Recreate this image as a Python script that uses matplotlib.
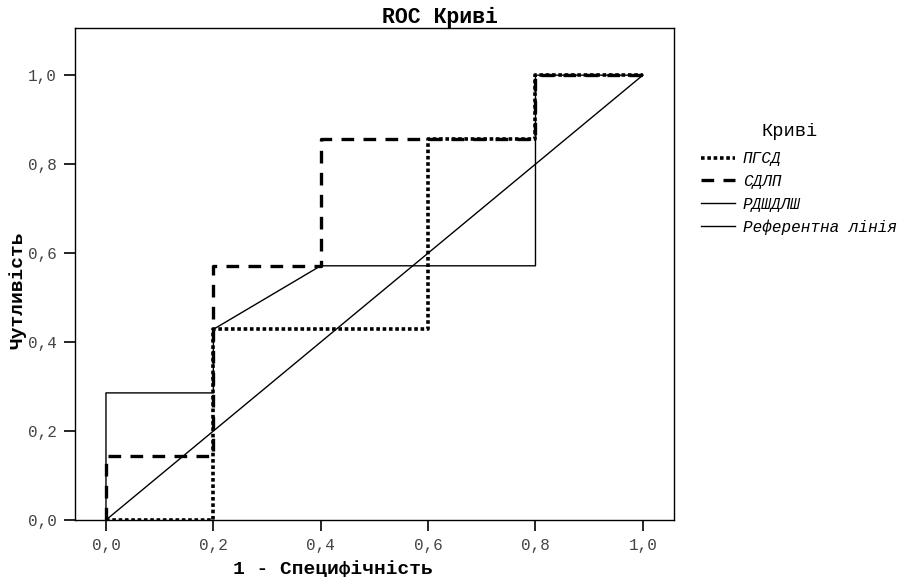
import matplotlib
matplotlib.use("Agg")
from matplotlib import pyplot as plt
from matplotlib.ticker import FuncFormatter

# ROC curve points (1 - specificity, sensitivity)
pgsd_x = [0.0, 0.2, 0.2, 0.6, 0.6, 0.8, 0.8, 1.0]
pgsd_y = [0.0, 0.0, 3/7, 3/7, 6/7, 6/7, 1.0, 1.0]

sdlp_x = [0.0, 0.0, 0.2, 0.2, 0.4, 0.4, 0.8, 0.8, 1.0]
sdlp_y = [0.0, 1/7, 1/7, 4/7, 4/7, 6/7, 6/7, 1.0, 1.0]

rdsh_x = [0.0, 0.0, 0.2, 0.2, 0.4, 0.8, 0.8, 1.0]
rdsh_y = [0.0, 2/7, 2/7, 3/7, 4/7, 4/7, 1.0, 1.0]

ref_x = [0.0, 1.0]
ref_y = [0.0, 1.0]

labels = ["ПГСД", "СДЛП", "РДШДЛШ", "Референтна лінія"]
ticks = [0.0, 0.2, 0.4, 0.6, 0.8, 1.0]

MONO = "Liberation Mono"

fig = plt.figure(figsize=(9.02, 5.77), dpi=100)
ax = fig.add_axes([75/902, 57/577, 599/902, 492/577])

h_ref, = ax.plot(ref_x, ref_y, color="black", lw=1.0)
h_rd, = ax.plot(rdsh_x, rdsh_y, color="black", lw=1.0)
h_sd, = ax.plot(sdlp_x, sdlp_y, color="black", lw=2.4, dashes=(3.8, 2.8))
h_pg, = ax.plot(pgsd_x, pgsd_y, color="black", lw=2.6, dashes=(1.0, 0.75))

ax.set_xlim(-0.0577, 1.058)
ax.set_ylim(0.0, 1.106)
ax.set_xticks(ticks)
ax.set_yticks(ticks)
fmt = FuncFormatter(lambda v, p: f"{v:.1f}".replace(".", ","))
ax.xaxis.set_major_formatter(fmt)
ax.yaxis.set_major_formatter(fmt)
ax.tick_params(direction="out", length=8, width=1.2, color="black",
               labelcolor="#444444", labelsize=11.5, pad=5)
for lab in ax.get_xticklabels() + ax.get_yticklabels():
    lab.set_family(MONO)
for s in ax.spines.values():
    s.set_linewidth(1.0)

fig.text(440/902, 1 - 17/577, "ROC Криві", family=MONO, weight="bold",
         fontsize=15.5, ha="center", va="center")
fig.text(333/902, 1 - 569/577, "1 - Специфічність", family=MONO, weight="bold",
         fontsize=14, ha="center", va="center")
fig.text(18/902, 1 - 290/577, "Чутливість", family=MONO, weight="bold",
         fontsize=14, ha="center", va="center", rotation=90)

# legend title placed separately, the entries below it
fig.text(790/902, 1 - 131/577, "Криві", family=MONO, fontsize=13.5,
         ha="center", va="center")
leg = fig.legend([h_pg, h_sd, h_rd, h_ref], labels,
                 loc="upper left", bbox_to_anchor=(687/902, 1 - 137/577),
                 frameon=False, handlelength=2.1,
                 handletextpad=0.5, labelspacing=0.48,
                 prop={"family": MONO, "style": "italic", "size": 11.5})

fig.savefig("out.png", dpi=100)
